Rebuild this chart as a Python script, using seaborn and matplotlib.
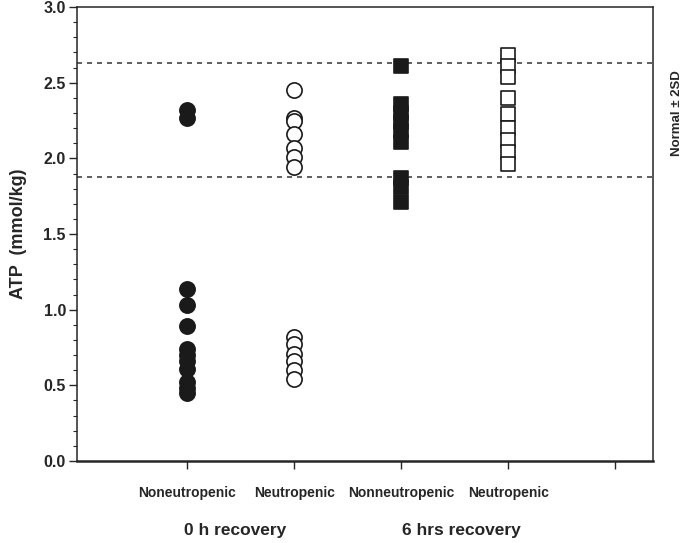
import pandas as pd
import matplotlib
matplotlib.use('Agg')
import matplotlib.pyplot as plt
import seaborn as sns
from matplotlib.ticker import MultipleLocator

# Data
tick_labels = ['Noneutropenic', 'Neutropenic', 'Nonneutropenic', 'Neutropenic']
recovery_labels = ['0 h recovery', '6 hrs recovery']

noneutro_0h = [2.32, 2.27, 1.14, 1.03, 0.89, 0.74, 0.70, 0.66, 0.61, 0.52, 0.48, 0.45]
neutro_0h = [2.45, 2.27, 2.25, 2.16, 2.07, 2.01, 1.94, 0.82, 0.77, 0.71, 0.66, 0.60, 0.54]
noneutro_6h = [2.61, 2.36, 2.30, 2.24, 2.18, 2.11, 1.87, 1.81, 1.71]
neutro_6h = [2.68, 2.61, 2.54, 2.40, 2.29, 2.20, 2.12, 2.04, 1.96]

normal_limits = [1.88, 2.63]

series = [noneutro_0h, neutro_0h, noneutro_6h, neutro_6h]
markers = ['o', 'o', 's', 's']
faces = ['#1a1a1a', 'white', '#1a1a1a', 'white']
sizes = [120, 120, 95, 95]

sns.set_style('ticks')
plt.rcParams['font.family'] = ['Liberation Sans', 'DejaVu Sans']
plt.rcParams['font.weight'] = 'bold'

fig = plt.figure(figsize=(6.85, 5.43), dpi=100)
ax = fig.add_axes([0.1124, 0.151, 0.8406, 0.836])

for i, vals in enumerate(series):
    df = pd.DataFrame({'x': [i + 1] * len(vals), 'atp': vals})
    sns.scatterplot(data=df, x='x', y='atp', ax=ax, marker=markers[i], s=sizes[i],
                    color=faces[i], edgecolor='#1a1a1a', linewidth=1.2, legend=False,
                    zorder=3)

for lim in normal_limits:
    ax.axhline(lim, color='#444444', linestyle=(0, (3, 3)), linewidth=1.2, zorder=2)

ax.set_xlim(-0.03, 5.35)
ax.set_ylim(0, 3.0)
ax.set_xticks([1, 2, 3, 4, 5])
ax.set_xticklabels(tick_labels + [''], fontsize=10, fontweight='bold')
ax.yaxis.set_major_locator(MultipleLocator(0.5))
ax.yaxis.set_minor_locator(MultipleLocator(0.1))
ax.set_yticklabels([f'{v:.1f}' for v in ax.get_yticks()], fontsize=11.5, fontweight='bold')
ax.tick_params(axis='x', length=6, width=1, pad=12)
ax.tick_params(axis='y', which='major', length=6, width=1, pad=2)
ax.tick_params(axis='y', which='minor', length=3, width=0.8)
for sp in ax.spines.values():
    sp.set_linewidth(1.1)
ax.spines['bottom'].set_linewidth(1.8)

ax.set_xlabel('')
ax.set_ylabel('ATP  (mmol/kg)', fontsize=13, fontweight='bold', labelpad=12)

ax.text(1.45, -0.46, recovery_labels[0], transform=ax.transData, ha='center', va='center',
        fontsize=12.5, fontweight='bold')
ax.text(3.56, -0.46, recovery_labels[1], transform=ax.transData, ha='center', va='center',
        fontsize=12.5, fontweight='bold')
fig.text(0.988, 0.792, 'Normal ± 2SD', rotation=90, ha='center', va='center',
         fontsize=9.5, fontweight='bold')

fig.savefig('out.png', dpi=100)
